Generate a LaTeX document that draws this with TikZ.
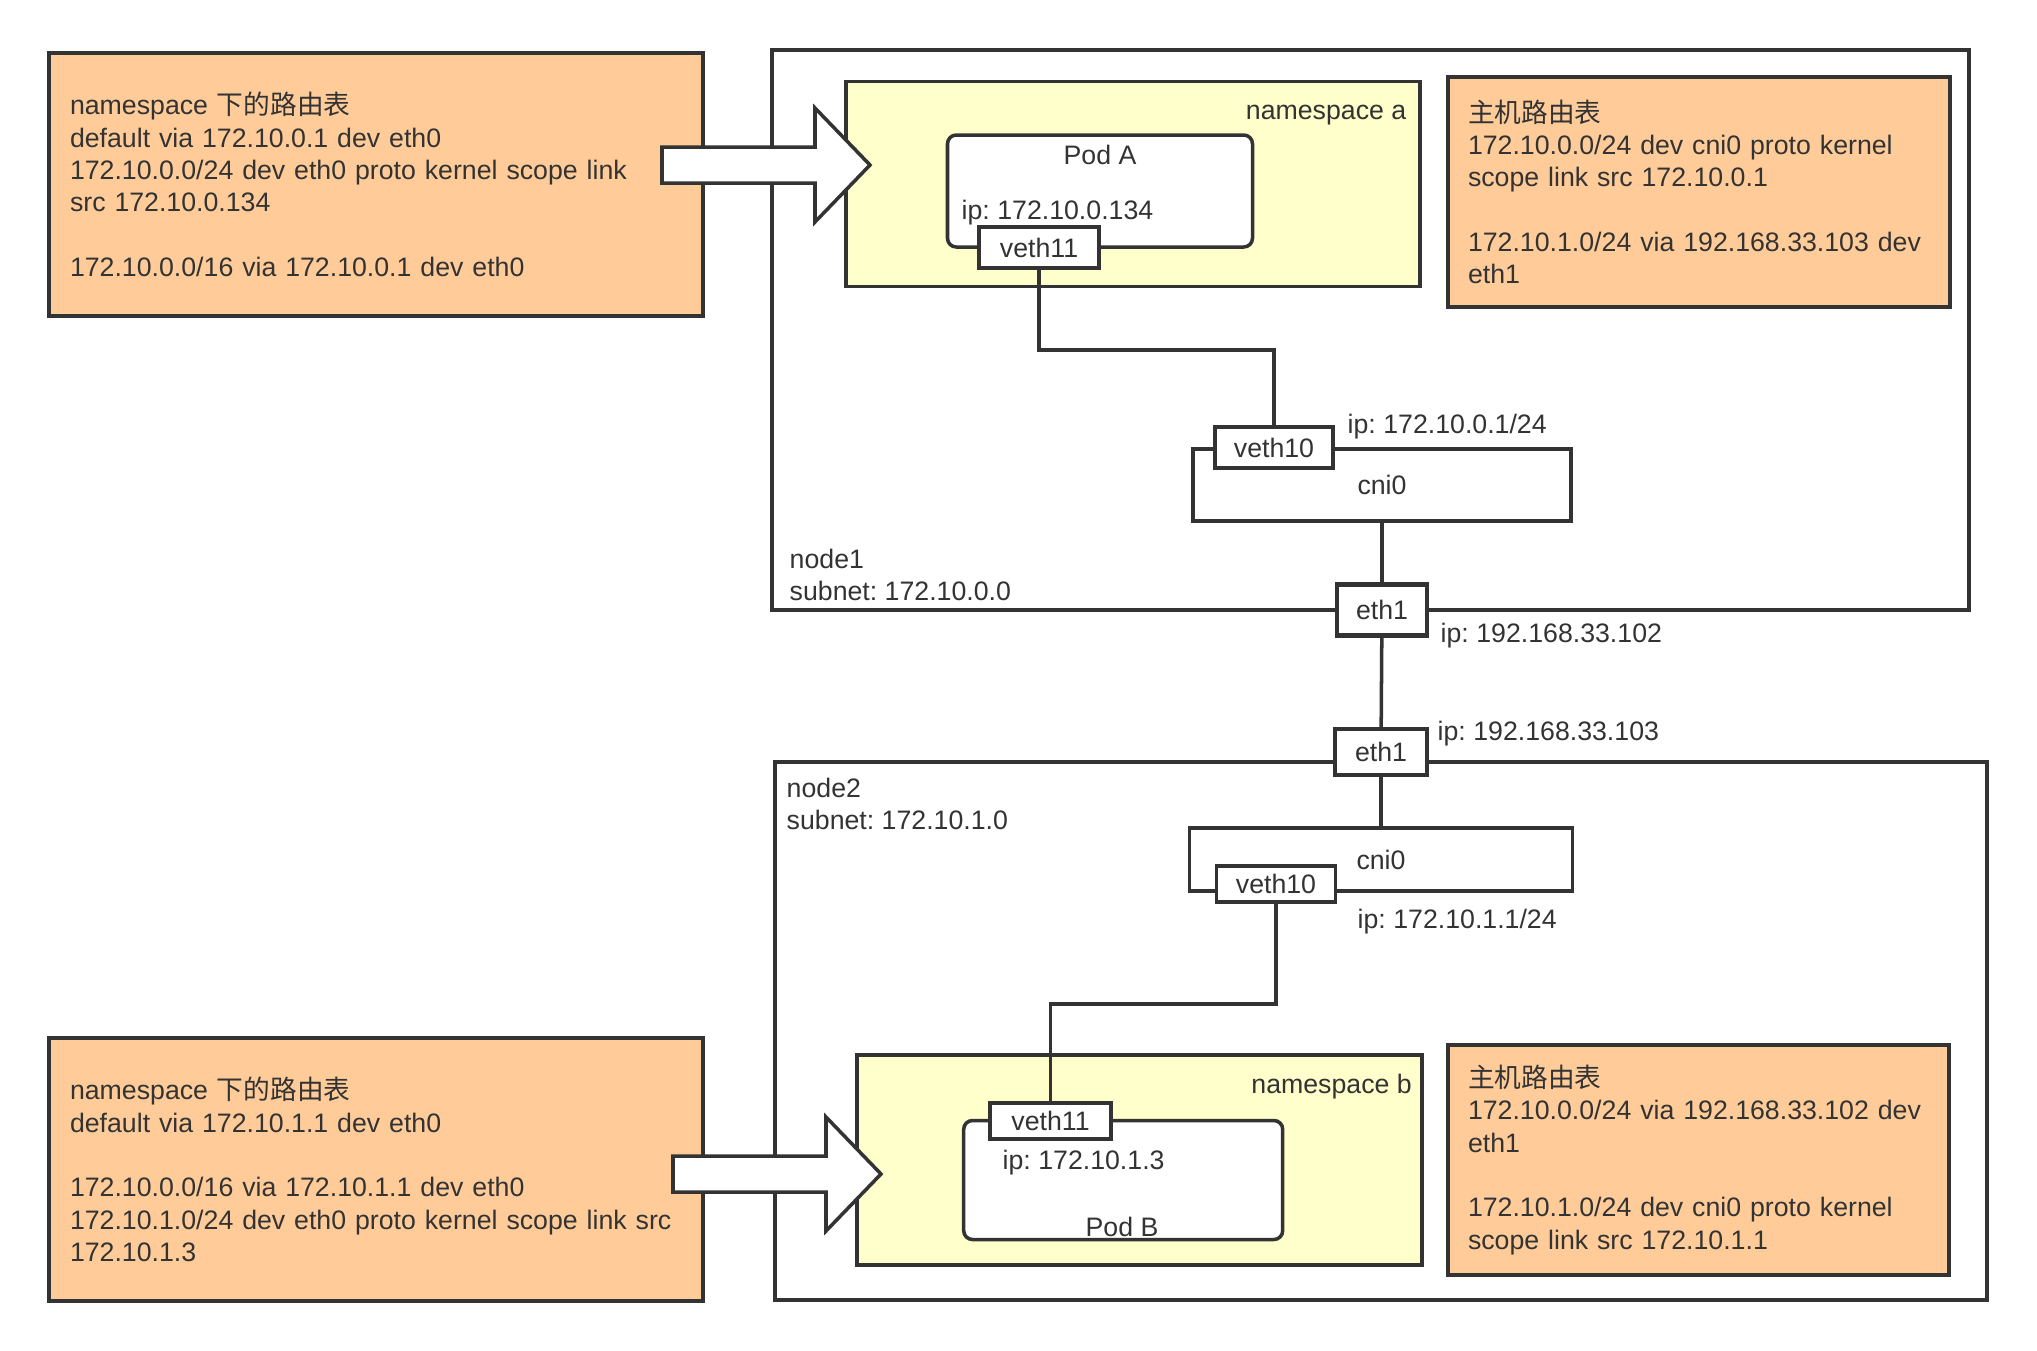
\documentclass[tikz,border=0pt]{standalone}
\usepackage{fontspec}
\setmainfont{Liberation Sans}
\newfontfamily\cjk{Noto Sans CJK SC}
\usepackage{tikz}
\usepackage{xcolor}
\definecolor{linegray}{HTML}{333333}
\definecolor{routefill}{HTML}{FFCC99}
\definecolor{nsfill}{HTML}{FFFFCC}
\tikzset{font={\fontsize{7.6pt}{9.2pt}\selectfont}}
\frenchspacing

\begin{document}
\begin{tikzpicture}[
color=linegray,
hostbox/.style={draw,line width=1pt},
nsbox/.style={draw,line width=1pt,fill=nsfill},
pod/.style={draw,line width=1pt,fill=white,rounded corners=2.5pt},
port/.style={draw,line width=1pt,fill=white,inner sep=0pt},
bridge/.style={draw,line width=1pt,fill=white,inner sep=0pt},
route/.style={draw,line width=1pt,fill=routefill,align=left,text width=6.12cm,inner xsep=0.21cm},
lbl/.style={inner sep=0pt},
block arrow/.pic={\draw[line width=1pt,fill=white,line join=miter] (0,0.18) -- (1.53,0.18) -- (1.53,0.57) -- (2.08,0) -- (1.53,-0.57) -- (1.53,-0.18) -- (0,-0.18) -- cycle;}
]
\useasboundingbox (0,0) rectangle (20.37,-13.50);

\node[hostbox,minimum width=11.97cm,minimum height=5.60cm] (node1) at (13.705,-3.30) {};
\node[hostbox,minimum width=12.12cm,minimum height=5.38cm] (node2) at (13.81,-10.31) {};

\node[route,minimum height=2.63cm] (routea) at (3.76,-1.845) {namespace {\cjk 下的路由表}\\default via 172.10.0.1 dev eth0\\172.10.0.0/24 dev eth0 proto kernel scope link\\src 172.10.0.134\\[9.2pt]172.10.0.0/16 via 172.10.0.1 dev eth0};
\node[route,minimum height=2.63cm] (routeb) at (3.76,-11.695) {namespace {\cjk 下的路由表}\\default via 172.10.1.1 dev eth0\\[9.2pt]172.10.0.0/16 via 172.10.1.1 dev eth0\\172.10.1.0/24 dev eth0 proto kernel scope link src\\172.10.1.3};
\node[route,text width=4.62cm,inner xsep=0.2cm,minimum height=2.30cm] (hosta) at (16.99,-1.92) {{\cjk 主机路由表}\\172.10.0.0/24 dev cni0 proto kernel\\scope link src 172.10.0.1\\[9.2pt]172.10.1.0/24 via 192.168.33.103 dev\\eth1};
\node[route,text width=4.61cm,inner xsep=0.2cm,minimum height=2.30cm] (hostb) at (16.985,-11.60) {{\cjk 主机路由表}\\172.10.0.0/24 via 192.168.33.102 dev\\eth1\\[9.2pt]172.10.1.0/24 dev cni0 proto kernel\\scope link src 172.10.1.1};

\node[nsbox,minimum width=5.74cm,minimum height=2.05cm] (nsa) at (11.33,-1.842) {};
\node[nsbox,minimum width=5.65cm,minimum height=2.10cm] (nsb) at (11.393,-11.60) {};
\node[pod,minimum width=3.05cm,minimum height=1.12cm] (poda) at (11.00,-1.91) {};
\node[pod,minimum width=3.19cm,minimum height=1.19cm] (podb) at (11.232,-11.80) {};
\node[port,minimum width=1.20cm,minimum height=0.41cm] (vetha) at (10.39,-2.475) {veth11};
\node[port,minimum width=1.21cm,minimum height=0.36cm] (vethb) at (10.505,-11.21) {veth11};

\node[bridge,minimum width=3.78cm,minimum height=0.72cm] (cnia) at (13.82,-4.85) {cni0};
\node[port,minimum width=1.18cm,minimum height=0.41cm] (vethxa) at (12.74,-4.475) {veth10};
\node[bridge,minimum width=3.83cm,minimum height=0.63cm] (cnib) at (13.81,-8.595) {cni0};
\node[port,minimum width=1.19cm,minimum height=0.36cm] (vethxb) at (12.76,-8.84) {veth10};
\node[port,line width=1.2pt,minimum width=0.90cm,minimum height=0.51cm] (etha) at (13.82,-6.10) {eth1};
\node[port,line width=1.2pt,minimum width=0.92cm,minimum height=0.46cm] (ethb) at (13.81,-7.52) {eth1};

\node[lbl,anchor=east] (nsalabel) at (14.07,-1.15) {namespace a};
\node[lbl] (podalabel) at (11.00,-1.55) {Pod A};
\node[lbl,anchor=west] (ipa) at (9.61,-2.13) {ip: 172.10.0.134};
\node[lbl,anchor=west] (ipcnia) at (13.47,-4.27) {ip: 172.10.0.1/24};
\node[lbl,anchor=west,align=left] (node1label) at (7.89,-5.75) {node1\\subnet: 172.10.0.0};
\node[lbl,anchor=west] (ipetha) at (14.40,-6.36) {ip: 192.168.33.102};
\node[lbl,anchor=west] (ipethb) at (14.37,-7.34) {ip: 192.168.33.103};
\node[lbl,anchor=west,align=left] (node2label) at (7.86,-8.04) {node2\\subnet: 172.10.1.0};
\node[lbl,anchor=west] (ipcnib) at (13.57,-9.215) {ip: 172.10.1.1/24};
\node[lbl,anchor=east] (nsblabel) at (14.125,-10.867) {namespace b};
\node[lbl,anchor=west] (ipb) at (10.02,-11.63) {ip: 172.10.1.3};
\node[lbl] (podblabel) at (11.22,-12.27) {Pod B};

\draw[line width=1pt] (vetha.south) -- ++(0,-0.8) -| (vethxa.north);
\draw[line width=1pt] (cnia) -- (etha);
\draw[line width=1pt] (etha) -- (ethb);
\draw[line width=1pt] (ethb) -- (cnib);
\draw[line width=1pt] (vethxb.south) -- ++(0,-1.0) -| (vethb.north);

\foreach \x/\y in {6.62/-1.65,6.73/-11.74}\pic at (\x,\y){block arrow};

\end{tikzpicture}
\end{document}
